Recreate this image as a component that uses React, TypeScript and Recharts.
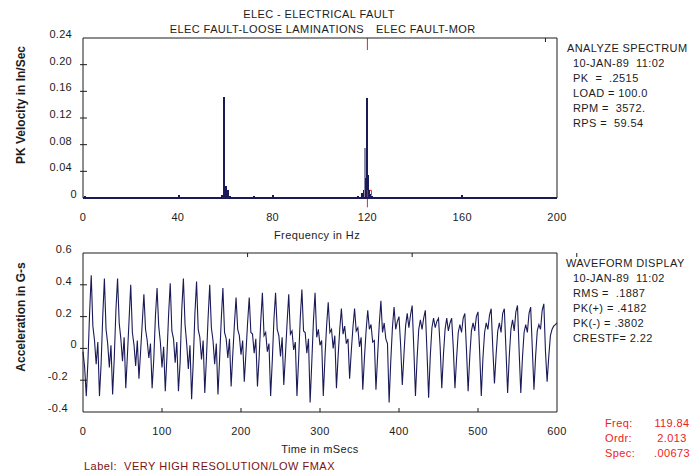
import React from 'react';
import { ComposedChart, LineChart, Line, Bar, XAxis, YAxis, ReferenceLine, ReferenceArea } from 'recharts';

const FONT = '"Liberation Sans", Arial, Helvetica, sans-serif';
const INK = '#1c1c1c';
const NAVY = '#1a1a58';
const RED = '#f02020';

// ---------- Spectrum (top) ----------
const specFreq = [0.8, 15.6, 17.3, 20.7, 30, 40.6, 58.5, 59.5, 60.3, 61, 62, 63.5, 65, 67, 70, 72, 75, 77, 80,
  104, 106, 108, 111, 114, 116, 117.6, 118.4, 119.2, 119.5, 119.8, 120.1, 120.5, 121.2, 122, 123, 124,
  133, 136.7, 139, 141.4, 159.8, 165.4];
const specAmp = [0.003, 0.0015, 0.0015, 0.0015, 0.0015, 0.005, 0.004, 0.152, 0.018, 0.012, 0.003, 0.002, 0.002, 0.002, 0.002, 0.0025, 0.002, 0.002, 0.005,
  0.0015, 0.0015, 0.0015, 0.0015, 0.002, 0.003, 0.008, 0.012, 0.075, 0.03, 0.15, 0.035, 0.012, 0.006, 0.003, 0.002, 0.002,
  0.002, 0.002, 0.002, 0.002, 0.005, 0.002];
const specTone = specFreq.map((f) => (f === 119.2 ? '#8c8cab' : NAVY));
const spectrumYTicks = [0, 0.04, 0.08, 0.12, 0.16, 0.2, 0.24];
const spectrumYLabels = ['0', '0.04', '0.08', '0.12', '0.16', '0.20', '0.24'];
const spectrumXTicks = [0, 40, 80, 120, 160, 200];
const cursorFreq = 120;

// ---------- Waveform (bottom), one row per 60 Hz cycle, 8 samples each ----------
const waveG = [
  -0.02, -0.12, -0.30, -0.08, 0.22, 0.46, 0.14, 0.05,
  -0.10, 0.04, -0.30, -0.10, 0.20, 0.44, 0.12, 0.03,
  -0.12, 0.02, -0.29, -0.06, 0.24, 0.44, 0.16, 0.06,
  -0.08, 0.07, -0.25, -0.04, 0.18, 0.40, 0.10, 0.02,
  -0.11, 0.05, -0.19, -0.02, 0.16, 0.34, 0.12, 0.05,
  -0.06, 0.03, -0.25, -0.07, 0.20, 0.38, 0.14, 0.04,
  -0.12, 0.01, -0.27, -0.05, 0.21, 0.41, 0.11, 0.06,
  -0.09, 0.04, -0.27, -0.09, 0.24, 0.44, 0.15, 0.03,
  -0.13, 0.02, -0.32, -0.08, 0.22, 0.42, 0.12, 0.07,
  -0.07, 0.05, -0.28, -0.06, 0.19, 0.40, 0.13, 0.05,
  -0.10, 0.03, -0.29, -0.07, 0.18, 0.38, 0.10, 0.06,
  -0.06, 0.06, -0.24, -0.04, 0.15, 0.32, 0.12, 0.08,
  -0.04, 0.05, -0.21, -0.03, 0.16, 0.32, 0.10, 0.09,
  -0.03, 0.06, -0.24, -0.06, 0.17, 0.35, 0.08, 0.10,
  -0.02, 0.03, -0.30, -0.08, 0.18, 0.35, 0.12, 0.08,
  -0.05, 0.07, -0.23, -0.04, 0.16, 0.34, 0.09, 0.11,
  -0.01, 0.04, -0.30, -0.07, 0.19, 0.37, 0.11, 0.10,
  -0.03, 0.06, -0.34, -0.09, 0.17, 0.35, 0.07, 0.12,
  0.02, 0.05, -0.30, -0.06, 0.14, 0.29, 0.10, 0.12,
  0.00, 0.08, -0.25, -0.05, 0.12, 0.25, 0.09, 0.14,
  0.03, 0.06, -0.19, -0.02, 0.13, 0.25, 0.11, 0.13,
  0.01, 0.07, -0.26, -0.06, 0.11, 0.24, 0.12, 0.15,
  0.04, 0.05, -0.26, -0.05, 0.15, 0.30, 0.10, 0.16,
  0.06, 0.03, -0.34, -0.08, 0.13, 0.26, 0.12, 0.17,
  0.20, 0.02, -0.23, -0.04, 0.14, 0.22, 0.13, 0.21,
  0.27, 0.00, -0.30, -0.06, 0.12, 0.18, 0.12, 0.19,
  0.24, -0.02, -0.31, -0.05, 0.13, 0.19, 0.13, 0.17,
  0.19, 0.01, -0.25, -0.04, 0.12, 0.19, 0.11, 0.16,
  0.19, 0.00, -0.25, -0.06, 0.10, 0.15, 0.10, 0.19,
  0.22, -0.01, -0.27, -0.05, 0.11, 0.16, 0.11, 0.20,
  0.23, -0.02, -0.30, -0.06, 0.10, 0.16, 0.12, 0.21,
  0.25, 0.00, -0.22, -0.04, 0.11, 0.16, 0.10, 0.22,
  0.25, -0.01, -0.28, -0.05, 0.12, 0.18, 0.11, 0.23,
  0.27, -0.02, -0.28, -0.06, 0.10, 0.15, 0.10, 0.22,
  0.26, 0.00, -0.26, -0.05, 0.11, 0.15, 0.12, 0.24,
  0.28, -0.02, -0.21, -0.05, 0.08, 0.12, 0.14, 0.15,
  0.16,
];
const waveSpanMs = 600;
const waveYTicks = [-0.4, -0.2, 0, 0.2, 0.4, 0.6];
const waveYLabels = ['-0.4', '-0.2', '0', '0.2', '0.4', '0.6'];
const waveXTicks = [0, 100, 200, 300, 400, 500, 600];

const spectrumData = specFreq.map((f, i) => ({ f, a: specAmp[i], tone: specTone[i] }));
const waveStep = waveSpanMs / (waveG.length - 1);
const waveData = waveG.map((g, i) => ({ t: i * waveStep, g }));

const textProps = { fontFamily: FONT, fill: INK, fontSize: 11, letterSpacing: 0.3 } as any;

const isEnd = (p: any, ticks: number[]) => p.payload.value === ticks[0] || p.payload.value === ticks[ticks.length - 1];

const makeLeftTick = (ticks: number[], labels: string[]) => (p: any) => {
  const { x, y, payload } = p;
  const idx = ticks.indexOf(payload.value);
  const label = idx >= 0 ? labels[idx] : String(payload.value);
  const off = label === '0' ? 6 : label.startsWith('-') ? 15 : 11;
  return (
    <g>
      {isEnd(p, ticks) ? null : <line x1={x - 3} x2={x + 4} y1={y} y2={y} stroke={INK} strokeWidth={1} />}
      <text x={x - off} y={y - 4} textAnchor="end" dominantBaseline="central" {...textProps}>{label}</text>
    </g>
  );
};
const makeRightTick = (ticks: number[]) => (p: any) => {
  const { x, y } = p;
  if (isEnd(p, ticks)) return <g />;
  return <line x1={x - 6} x2={x + 3} y1={y} y2={y} stroke={INK} strokeWidth={1} />;
};
const makeTopTick = (ticks: number[]) => (p: any) => {
  const { x, y } = p;
  if (isEnd(p, ticks)) return <g />;
  return <line x1={x} x2={x} y1={y} y2={y + 4} stroke={INK} strokeWidth={1} />;
};
const makeBottomTick = (ticks: number[], marks: boolean) => (p: any) => {
  const { x, y, payload } = p;
  return (
    <g>
      {marks && !isEnd(p, ticks) ? <line x1={x} x2={x} y1={y} y2={y - 4} stroke={INK} strokeWidth={1} /> : null}
      <text x={x} y={y + 19} textAnchor="middle" dominantBaseline="central" {...textProps}>{String(payload.value)}</text>
    </g>
  );
};

const PeakShape = (p: any) => {
  const { x, y, width, height, payload } = p;
  if (!height || height <= 0) return <g />;
  const cx = Math.round(x + width / 2);
  return <rect x={cx - 1} y={y} width={2} height={height} fill={payload.tone} shapeRendering="crispEdges" />;
};

const W = 693;
const H = 473;
const axisCommon = { tickSize: 0, tickMargin: 0, tickLine: false, interval: 0 } as any;

export default function App() {
  return (
    <div style={{ position: 'absolute', left: 0, top: 0, width: W, height: H, background: '#fff', overflow: 'hidden' }}>
      <div style={{ position: 'absolute', left: 0, top: 0 }}>
        <ComposedChart width={W} height={H} data={spectrumData} margin={{ top: 8, right: 76, bottom: 245, left: 23 }}>
          <XAxis xAxisId="b" dataKey="f" type="number" domain={[0, 200]} ticks={spectrumXTicks} height={30}
            {...axisCommon} axisLine={{ stroke: NAVY, strokeWidth: 1.8 }} tick={makeBottomTick(spectrumXTicks, false)} />
          <XAxis xAxisId="t" orientation="top" type="number" domain={[0, 200]} ticks={spectrumXTicks} height={30}
            {...axisCommon} axisLine={{ stroke: INK }} tick={makeTopTick(spectrumXTicks)} />
          <YAxis yAxisId="l" type="number" domain={[0, 0.24]} ticks={spectrumYTicks} width={60}
            {...axisCommon} axisLine={{ stroke: INK }} tick={makeLeftTick(spectrumYTicks, spectrumYLabels)} />
          <YAxis yAxisId="r" orientation="right" type="number" domain={[0, 0.24]} ticks={spectrumYTicks} width={60}
            {...axisCommon} axisLine={{ stroke: INK }} tick={makeRightTick(spectrumYTicks)} />
          <Bar xAxisId="b" yAxisId="l" dataKey="a" barSize={2} isAnimationActive={false} shape={PeakShape} />
          <ReferenceLine xAxisId="b" yAxisId="l" segment={[{ x: cursorFreq, y: 0.24 }, { x: cursorFreq, y: 0.222 }]} stroke={RED} strokeWidth={1} />
          <ReferenceLine xAxisId="b" yAxisId="l" segment={[{ x: cursorFreq, y: 0.012 }, { x: cursorFreq, y: -0.014 }]} stroke={RED} strokeWidth={1} ifOverflow="visible" />
          <ReferenceArea xAxisId="b" yAxisId="l" x1={120.4} x2={121.7} y1={0.004} y2={0.0115} stroke={RED} fill="none" strokeWidth={1} />
        </ComposedChart>
      </div>
      <div style={{ position: 'absolute', left: 0, top: 0 }}>
        <LineChart width={W} height={H} data={waveData} margin={{ top: 223, right: 76, bottom: 31, left: 23 }}>
          <XAxis xAxisId="b" dataKey="t" type="number" domain={[0, 600]} ticks={waveXTicks} height={30}
            {...axisCommon} axisLine={{ stroke: INK }} tick={makeBottomTick(waveXTicks, true)} />
          <XAxis xAxisId="t" orientation="top" type="number" domain={[0, 600]} ticks={waveXTicks} height={30}
            {...axisCommon} axisLine={{ stroke: INK }} tick={makeTopTick(waveXTicks)} />
          <YAxis yAxisId="l" type="number" domain={[-0.4, 0.6]} ticks={waveYTicks} width={60}
            {...axisCommon} axisLine={{ stroke: INK }} tick={makeLeftTick(waveYTicks, waveYLabels)} />
          <YAxis yAxisId="r" orientation="right" type="number" domain={[-0.4, 0.6]} ticks={waveYTicks} width={60}
            {...axisCommon} axisLine={{ stroke: INK }} tick={makeRightTick(waveYTicks)} />
          <Line xAxisId="b" yAxisId="l" dataKey="g" type="linear" stroke={NAVY} strokeWidth={1.1} dot={false} isAnimationActive={false} />
        </LineChart>
      </div>
      <svg width={W} height={H} style={{ position: 'absolute', left: 0, top: 0, pointerEvents: 'none' }}>
        <g fontFamily={FONT} fill={INK} fontSize={11} letterSpacing={0.4}>
          <text x={319} y={14} textAnchor="middle" dominantBaseline="central">ELEC - ELECTRICAL FAULT</text>
          <text x={364} y={29} textAnchor="end" dominantBaseline="central">ELEC FAULT-LOOSE LAMINATIONS</text>
          <text x={376} y={29} textAnchor="start" dominantBaseline="central">ELEC FAULT-MOR</text>
          <text x={317} y={235} textAnchor="middle" dominantBaseline="central">Frequency in Hz</text>
          <text x={320} y={449} textAnchor="middle" dominantBaseline="central">Time in mSecs</text>

          <text x={567} y={48} dominantBaseline="central">ANALYZE SPECTRUM</text>
          <text x={573} y={63} dominantBaseline="central" style={{ whiteSpace: 'pre' }}>{'10-JAN-89  11:02'}</text>
          <text x={573} y={78} dominantBaseline="central" style={{ whiteSpace: 'pre' }}>{'PK  =  .2515'}</text>
          <text x={573} y={93} dominantBaseline="central" style={{ whiteSpace: 'pre' }}>{'LOAD = 100.0'}</text>
          <text x={573} y={108} dominantBaseline="central" style={{ whiteSpace: 'pre' }}>{'RPM =  3572.'}</text>
          <text x={573} y={123} dominantBaseline="central" style={{ whiteSpace: 'pre' }}>{'RPS =  59.54'}</text>

          <text x={566} y={263} dominantBaseline="central">WAVEFORM DISPLAY</text>
          <text x={573} y={278} dominantBaseline="central" style={{ whiteSpace: 'pre' }}>{'10-JAN-89  11:02'}</text>
          <text x={573} y={293} dominantBaseline="central" style={{ whiteSpace: 'pre' }}>{'RMS =  .1887'}</text>
          <text x={573} y={308} dominantBaseline="central" style={{ whiteSpace: 'pre' }}>{'PK(+) = .4182'}</text>
          <text x={573} y={323} dominantBaseline="central" style={{ whiteSpace: 'pre' }}>{'PK(-) = .3802'}</text>
          <text x={573} y={338} dominantBaseline="central" style={{ whiteSpace: 'pre' }}>{'CRESTF= 2.22'}</text>
        </g>
        <g fontFamily={FONT} fill={RED} fontSize={11} letterSpacing={0.4}>
          <text x={605} y={423} dominantBaseline="central">Freq:</text>
          <text x={605} y={438} dominantBaseline="central">Ordr:</text>
          <text x={605} y={453} dominantBaseline="central">Spec:</text>
          <text x={672} y={423} textAnchor="middle" dominantBaseline="central">119.84</text>
          <text x={672} y={438} textAnchor="middle" dominantBaseline="central">2.013</text>
          <text x={672} y={453} textAnchor="middle" dominantBaseline="central">.00673</text>
        </g>
        <text x={84} y={466} dominantBaseline="central" fontFamily={FONT} fontSize={11} letterSpacing={0.5} fill="#7a1212" style={{ whiteSpace: 'pre' }}>{'Label:  VERY HIGH RESOLUTION/LOW FMAX'}</text>
        <text x={21} y={105} transform="rotate(-90 21 105)" textAnchor="middle" dominantBaseline="central" fontFamily={FONT} fontSize={12} fontWeight="bold" fill={INK}>PK Velocity in In/Sec</text>
        <text x={21} y={317} transform="rotate(-90 21 317)" textAnchor="middle" dominantBaseline="central" fontFamily={FONT} fontSize={12} fontWeight="bold" fill={INK}>Acceleration in G-s</text>
      </svg>
    </div>
  );
}
